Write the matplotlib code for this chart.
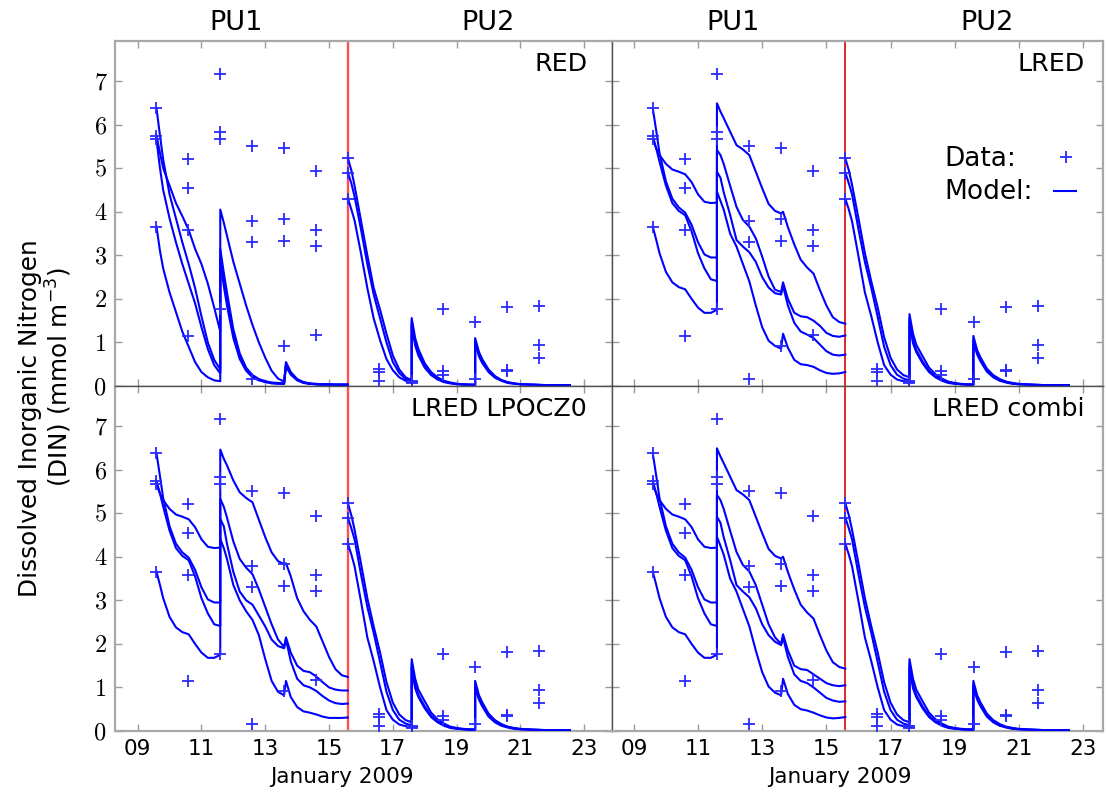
import matplotlib
matplotlib.use("Agg")
import matplotlib.pyplot as plt
from matplotlib.transforms import blended_transform_factory

plt.rcParams['font.family'] = ['DejaVu Sans']

# ---------------- data ----------------
OBS_T = [9.59, 10.59, 11.59, 12.59, 13.59, 14.59, 15.59, 16.58, 17.59, 18.58, 19.59, 20.59, 21.59]
OBS_Y = [[6.38, 5.74, 5.66, 3.66],
         [5.20, 4.54, 3.58, 1.15],
         [7.17, 5.84, 5.68, 1.76],
         [5.51, 3.79, 3.30, 0.15],
         [5.47, 3.83, 3.33, 0.91],
         [4.93, 3.57, 3.22, 1.17],
         [5.23, 4.90, 4.30],
         [0.40, 0.32, 0.11],
         [0.12, 0.10, 0.08],
         [1.76, 0.34, 0.26],
         [1.47, 0.15],
         [1.82, 0.36, 0.34],
         [1.84, 0.93, 0.64]]

T_PU1 = [9.59, 9.7, 9.8, 10.0, 10.2, 10.4, 10.6, 10.8, 11.0, 11.2, 11.4, 11.59,
         11.59, 11.7, 11.8, 12.0, 12.2, 12.4, 12.6, 12.8, 13.0, 13.2, 13.4, 13.59,
         13.65, 13.8, 14.0, 14.2, 14.4, 14.6, 14.8, 15.0, 15.2, 15.4, 15.59]

RED_A = [[5.74, 5.35, 5.0, 4.6, 4.2, 3.9, 3.58, 3.15, 2.8, 2.35, 1.8, 1.25],
         [6.38, 5.75, 5.2, 4.4, 3.85, 3.3, 2.8, 2.25, 1.6, 1.0, 0.6, 0.38],
         [5.66, 5.0, 4.5, 3.85, 3.3, 2.8, 2.35, 1.9, 1.35, 0.85, 0.48, 0.29],
         [3.66, 3.1, 2.7, 2.15, 1.7, 1.25, 0.9, 0.55, 0.32, 0.2, 0.13, 0.11]]
RED_B = [[4.05, 3.75, 3.45, 2.85, 2.35, 1.85, 1.4, 1.0, 0.65, 0.35, 0.17, 0.1],
         [3.15, 2.6, 2.15, 1.3, 0.75, 0.42, 0.25, 0.16, 0.11, 0.08, 0.07, 0.06],
         [3.0, 2.45, 2.0, 1.2, 0.68, 0.38, 0.22, 0.14, 0.1, 0.07, 0.06, 0.05],
         [2.85, 2.3, 1.85, 1.1, 0.62, 0.35, 0.2, 0.13, 0.09, 0.06, 0.05, 0.05]]
RED_C = [[0.55, 0.32, 0.16, 0.09, 0.06, 0.05, 0.04, 0.04, 0.03, 0.03, 0.03],
         [0.5, 0.3, 0.15, 0.08, 0.05, 0.04, 0.04, 0.03, 0.03, 0.03, 0.03],
         [0.47, 0.28, 0.14, 0.08, 0.05, 0.04, 0.03, 0.03, 0.03, 0.03, 0.03],
         [0.45, 0.26, 0.13, 0.07, 0.05, 0.04, 0.03, 0.03, 0.03, 0.03, 0.03]]

LRED_A = [[5.74, 5.45, 5.3, 5.1, 4.97, 4.92, 4.86, 4.68, 4.4, 4.23, 4.2, 4.21],
          [6.38, 5.85, 5.35, 4.7, 4.3, 4.1, 3.98, 3.7, 3.3, 3.02, 2.95, 2.95],
          [5.66, 5.45, 5.15, 4.6, 4.2, 4.02, 3.92, 3.55, 3.05, 2.7, 2.45, 2.41],
          [3.66, 3.35, 3.05, 2.62, 2.38, 2.27, 2.22, 2.0, 1.8, 1.68, 1.68, 1.75]]
LRED_B = [[6.49, 6.3, 6.15, 5.84, 5.53, 5.43, 5.3, 4.92, 4.54, 4.18, 4.02, 3.96],
          [5.42, 5.3, 5.1, 4.6, 4.11, 3.81, 3.66, 3.39, 2.97, 2.51, 2.21, 2.16],
          [4.92, 4.78, 4.45, 3.93, 3.35, 3.2, 3.07, 2.85, 2.5, 2.26, 2.13, 2.1],
          [4.46, 4.25, 4.05, 3.5, 3.2, 2.8, 2.4, 1.85, 1.35, 1.04, 0.92, 0.86]]
LRED_C = [[4.0, 3.65, 3.25, 2.9, 2.72, 2.58, 2.2, 1.85, 1.58, 1.47, 1.43],
          [2.38, 2.0, 1.68, 1.6, 1.58, 1.5, 1.38, 1.22, 1.15, 1.13, 1.16],
          [2.3, 1.85, 1.45, 1.25, 1.18, 1.1, 0.95, 0.8, 0.72, 0.7, 0.72],
          [1.2, 0.88, 0.6, 0.5, 0.48, 0.44, 0.36, 0.3, 0.28, 0.29, 0.32]]

LPOCZ0_B = [[6.46, 6.25, 6.1, 5.75, 5.48, 5.35, 5.25, 4.85, 4.45, 4.1, 3.9, 3.83],
            [5.33, 5.15, 4.9, 4.35, 3.95, 3.75, 3.6, 3.25, 2.85, 2.45, 2.1, 1.93],
            [4.87, 4.7, 4.3, 3.65, 3.2, 3.0, 2.9, 2.65, 2.4, 2.1, 1.95, 1.9],
            [4.41, 4.2, 3.95, 3.35, 3.0, 2.75, 2.55, 2.2, 1.65, 1.15, 0.9, 0.82]]
LPOCZ0_C = [[3.85, 3.55, 3.05, 2.75, 2.55, 2.4, 2.05, 1.7, 1.42, 1.28, 1.24],
            [2.15, 1.8, 1.5, 1.38, 1.35, 1.25, 1.12, 1.0, 0.95, 0.93, 0.93],
            [2.1, 1.6, 1.2, 1.05, 1.0, 0.92, 0.8, 0.7, 0.64, 0.62, 0.63],
            [1.15, 0.78, 0.55, 0.45, 0.42, 0.38, 0.33, 0.3, 0.3, 0.3, 0.31]]

COMBI_B = [[6.49, 6.3, 6.15, 5.84, 5.53, 5.43, 5.3, 4.92, 4.54, 4.18, 4.02, 3.96],
           [5.42, 5.3, 5.1, 4.6, 4.11, 3.81, 3.66, 3.35, 2.9, 2.45, 2.15, 2.0],
           [4.92, 4.78, 4.45, 3.93, 3.35, 3.2, 3.07, 2.82, 2.45, 2.2, 2.05, 1.97],
           [4.46, 4.25, 4.05, 3.5, 3.2, 2.8, 2.4, 1.85, 1.35, 1.02, 0.88, 0.82]]
COMBI_C = [[4.0, 3.65, 3.25, 2.9, 2.72, 2.58, 2.2, 1.85, 1.58, 1.47, 1.43],
           [2.22, 1.85, 1.5, 1.42, 1.4, 1.3, 1.2, 1.1, 1.05, 1.03, 1.05],
           [2.15, 1.7, 1.3, 1.15, 1.1, 1.0, 0.88, 0.76, 0.7, 0.67, 0.68],
           [1.2, 0.85, 0.6, 0.5, 0.47, 0.42, 0.36, 0.31, 0.29, 0.3, 0.32]]

T_PU2 = [15.59, 15.7, 15.8, 16.0, 16.2, 16.4, 16.6, 16.8, 17.0, 17.2, 17.4, 17.59,
         17.59, 17.7, 17.8, 18.0, 18.2, 18.4, 18.6, 18.8, 19.0, 19.2, 19.4, 19.58,
         19.58, 19.7, 19.8, 20.0, 20.2, 20.4, 20.6, 20.8, 21.0, 21.4, 21.8, 22.2, 22.55]

RED_PU2 = [[5.23, 4.95, 4.6, 3.8, 3.0, 2.25, 1.75, 1.2, 0.7, 0.38, 0.2, 0.13,
            1.56, 1.1, 0.85, 0.52, 0.32, 0.2, 0.12, 0.08, 0.05, 0.04, 0.03, 0.03,
            1.1, 0.78, 0.62, 0.38, 0.23, 0.14, 0.09, 0.06, 0.04, 0.03, 0.02, 0.02, 0.02],
           [4.9, 4.65, 4.35, 3.6, 2.8, 2.1, 1.55, 1.0, 0.55, 0.3, 0.16, 0.1,
            1.48, 1.0, 0.76, 0.46, 0.28, 0.17, 0.1, 0.07, 0.05, 0.04, 0.03, 0.03,
            1.04, 0.72, 0.57, 0.35, 0.21, 0.13, 0.08, 0.06, 0.04, 0.03, 0.02, 0.02, 0.02],
           [4.31, 4.05, 3.8, 3.05, 2.25, 1.55, 1.05, 0.62, 0.36, 0.2, 0.12, 0.08,
            1.4, 0.93, 0.7, 0.42, 0.25, 0.15, 0.09, 0.06, 0.04, 0.03, 0.03, 0.03,
            1.0, 0.68, 0.53, 0.32, 0.19, 0.12, 0.07, 0.05, 0.04, 0.03, 0.02, 0.02, 0.02]]

LRED_PU2 = [[5.23, 4.95, 4.62, 3.85, 3.05, 2.4, 1.8, 1.12, 0.65, 0.38, 0.25, 0.2,
             1.65, 1.2, 0.95, 0.68, 0.42, 0.27, 0.17, 0.1, 0.07, 0.05, 0.04, 0.04,
             1.15, 0.82, 0.66, 0.4, 0.25, 0.16, 0.1, 0.07, 0.05, 0.03, 0.02, 0.02, 0.02],
            [4.9, 4.65, 4.4, 3.6, 2.85, 2.25, 1.58, 0.9, 0.48, 0.26, 0.17, 0.13,
             1.55, 1.05, 0.83, 0.56, 0.35, 0.22, 0.14, 0.08, 0.06, 0.04, 0.03, 0.03,
             1.07, 0.76, 0.6, 0.36, 0.22, 0.14, 0.09, 0.06, 0.04, 0.03, 0.02, 0.02, 0.02],
            [4.3, 4.05, 3.78, 2.98, 2.15, 1.6, 1.0, 0.48, 0.26, 0.15, 0.11, 0.09,
             1.45, 0.98, 0.78, 0.52, 0.32, 0.2, 0.12, 0.07, 0.05, 0.04, 0.03, 0.03,
             1.0, 0.72, 0.57, 0.33, 0.2, 0.12, 0.08, 0.05, 0.04, 0.03, 0.02, 0.02, 0.02]]

X_TICKS = [9, 11, 13, 15, 17, 19, 21, 23]
X_TICKLABELS = ['09', '11', '13', '15', '17', '19', '21', '23']
Y_TICKS = [0, 1, 2, 3, 4, 5, 6, 7]
SPLIT_DAY = 15.59
PANEL_NAMES = ['RED', 'LRED', 'LRED LPOCZ0', 'LRED combi']


def join(a, b, c):
    return [a[i] + b[i] + c[i] for i in range(len(a))]


PU1_SETS = [join(RED_A, RED_B, RED_C),
            join(LRED_A, LRED_B, LRED_C),
            join(LRED_A, LPOCZ0_B, LPOCZ0_C),
            join(LRED_A, COMBI_B, COMBI_C)]
PU2_SETS = [RED_PU2, LRED_PU2, LRED_PU2, LRED_PU2]

# ---------------- figure ----------------
W, H = 1106, 796
fig = plt.figure(figsize=(W / 100, H / 100), dpi=100)

col_px = [(115, 612), (612, 1103)]
row_px = [(41, 386), (386, 731)]
xlims = [(8.29, 23.87), (8.32, 23.62)]

BLUE = '#0000ff'
OBS_COL = '#2a2aff'
OUTER = '#a8a8a8'
INNER = '#505050'

for k in range(4):
    r, c = divmod(k, 2)
    x0, x1 = col_px[c]
    y0, y1 = row_px[r]
    ax = fig.add_axes([x0 / W, 1 - y1 / H, (x1 - x0) / W, (y1 - y0) / H])
    ax.set_xlim(*xlims[c])
    ax.set_ylim(0, 7.92)

    # red divider between PU1 and PU2
    ax.axvline(SPLIT_DAY, color='#ff5050' if c == 0 else '#e00000',
               lw=1.7 if c == 0 else 1.2, zorder=1)

    for curve in PU1_SETS[k]:
        ax.plot(T_PU1, curve, color=BLUE, lw=1.5, zorder=3)
    for curve in PU2_SETS[k]:
        ax.plot(T_PU2, curve, color=BLUE, lw=1.5, zorder=3)

    for t, ys in zip(OBS_T, OBS_Y):
        ax.plot([t] * len(ys), ys, linestyle='none', marker='+', ms=8.5,
                mew=1.3, color=OBS_COL, zorder=4)

    # spines
    outer = {'top': r == 0, 'bottom': r == 1, 'left': c == 0, 'right': c == 1}
    for side, sp in ax.spines.items():
        if outer[side]:
            sp.set_color(OUTER)
            sp.set_linewidth(1.6)
        else:
            sp.set_color(INNER)
            sp.set_linewidth(1.0)

    ax.set_xticks(X_TICKS)
    ax.set_yticks(Y_TICKS)
    ax.tick_params(direction='in', length=5, width=1, color='#9a9a9a',
                   top=True, right=True, labelcolor='black')
    if r == 1:
        ax.set_xticklabels(X_TICKLABELS, fontsize=15.5, family='DejaVu Sans')
        ax.tick_params(axis='x', pad=6)
        ax.set_xlabel('January 2009', fontsize=15.5)
        ax.xaxis.set_label_coords(0.457 if c == 0 else 0.464, -0.103)
    else:
        ax.set_xticklabels([])
    if c == 0:
        ax.set_yticklabels([str(v) for v in Y_TICKS], fontsize=17.5, family='cmr10')
        ax.tick_params(axis='y', pad=6)
    else:
        ax.set_yticklabels([])

    # panel name
    ax.text(0.950 if c == 0 else 0.963, 0.912, PANEL_NAMES[k], transform=ax.transAxes,
            ha='right', va='baseline', fontsize=18.3, color='black')

    # PU labels above top row
    if r == 0:
        tr = blended_transform_factory(ax.transData, ax.transAxes)
        ax.text(12.1, 1.052, 'PU1', transform=tr, ha='center', va='center',
                fontsize=19.5, clip_on=False)
        ax.text(20.0, 1.052, 'PU2', transform=tr, ha='center', va='center',
                fontsize=19.5, clip_on=False)

    # legend in LRED panel
    if k == 1:
        ax.text(0.677, 0.638, 'Data:', transform=ax.transAxes, ha='left',
                va='baseline', fontsize=19)
        ax.text(0.677, 0.541, 'Model:', transform=ax.transAxes, ha='left',
                va='baseline', fontsize=19)
        ax.plot([0.924], [0.663], transform=ax.transAxes, linestyle='none',
                marker='+', ms=8.5, mew=1.3, color=OBS_COL, clip_on=False)
        ax.plot([0.901, 0.946], [0.565, 0.565], transform=ax.transAxes,
                color=BLUE, lw=1.5, clip_on=False)

fig.text(30 / W, 1 - 418 / H, 'Dissolved Inorganic Nitrogen',
         rotation=90, ha='center', va='center', fontsize=17.8)
fig.text(59 / W, 1 - 377 / H, '(DIN) (mmol m$^{-3}$)',
         rotation=90, ha='center', va='center', fontsize=17.8)

fig.savefig('out.png', dpi=100)
